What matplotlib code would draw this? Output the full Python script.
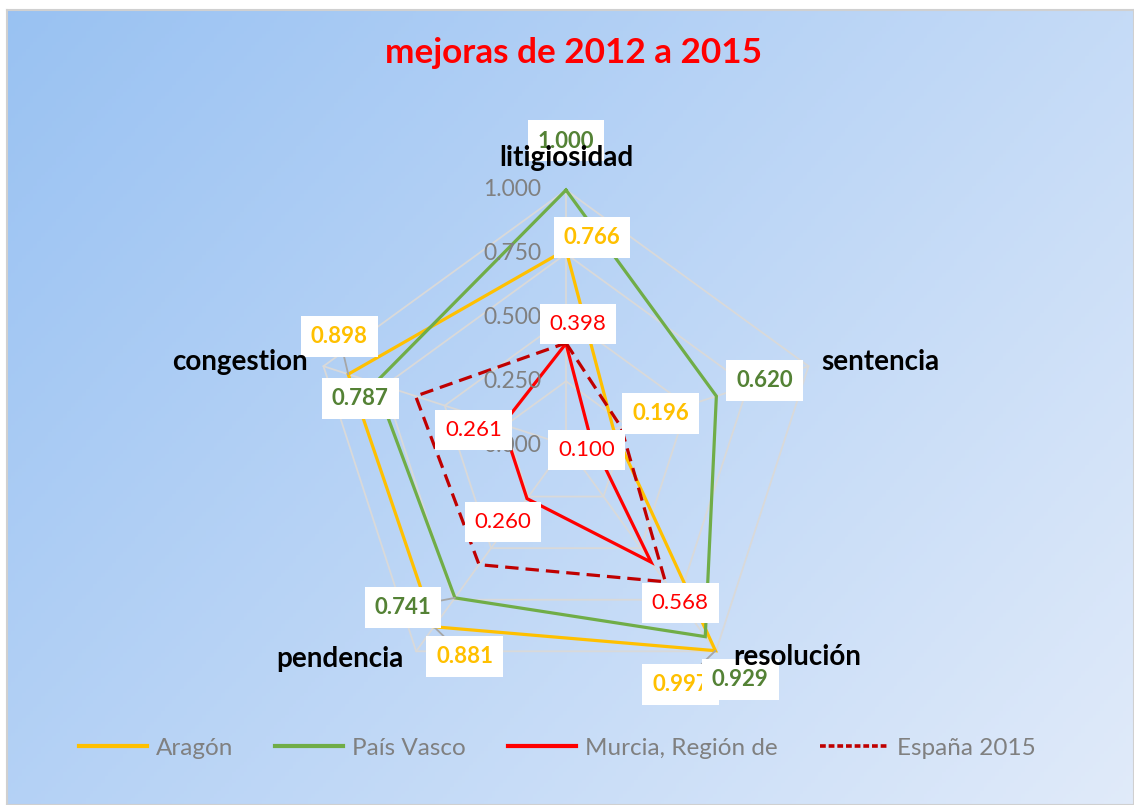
import numpy as np
import matplotlib
matplotlib.use("Agg")
import matplotlib.pyplot as plt
from matplotlib.lines import Line2D

# ---------------- data ----------------
title = "mejoras de 2012 a 2015"
categories = ["litigiosidad", "sentencia", "resolución", "pendencia", "congestion"]
series_names = ["Aragón", "País Vasco", "Murcia, Región de", "España 2015"]
aragon = [0.766, 0.196, 0.997, 0.881, 0.898]
pais_vasco = [1.000, 0.620, 0.929, 0.741, 0.787]
murcia = [0.398, 0.100, 0.568, 0.260, 0.261]
espana = [0.400, 0.227, 0.663, 0.580, 0.620]
radial_ticks = [0.0, 0.25, 0.5, 0.75, 1.0]
radial_labels = ["0.000", "0.250", "0.500", "0.750", "1.000"]

# ---------------- style / layout ----------------
plt.rcParams["font.family"] = ["Lato", "DejaVu Sans"]
colors = ["#FFC000", "#70AD47", "#FF0000", "#C00000"]
label_colors = ["#FFC000", "#548235", "#FF0000", None]
label_weights = ["bold", "bold", "normal", "normal"]
linestyles = ["-", "-", "-", (0, (4.2, 2.2))]
legend_styles = ["-", "-", "-", (0, (1.6, 0.8))]

# data label offsets (pixels) per series per category
label_offsets = [
    [(26, 12), (47, 16), (-35, -34), (31, -30), (-9, 38)],
    [(0, 49), (48, 16), (35, -43), (-52, -10), (-15, -16)],
    [(12, 20), (-4, -13), (29, -41), (-24, -23), (-29, -6)],
    None,
]
leader = [[False, False, True, True, True],
          [False, False, False, True, False],
          [False] * 5, None]
cat_offsets = [(0, 32), (72, 4), (81, -6), (-76, -8), (-84, 4)]

W, H = 1134, 805
fig = plt.figure(figsize=(W / 100, H / 100), dpi=100)
fig.patch.set_facecolor("white")

# background gradient panel
bg = fig.add_axes([7 / W, 0, 1 - 7 / W, 1 - 10 / H])
nx, ny = 300, 220
xx, yy = np.meshgrid(np.linspace(0, 1, nx), np.linspace(0, 1, ny))
t = (xx * 0.62 + yy * 0.38)
c0 = np.array([0.60, 0.76, 0.95])
c1 = np.array([0.88, 0.92, 0.98])
img = c0[None, None, :] * (1 - t[..., None]) + c1[None, None, :] * t[..., None]
bg.imshow(img, extent=[0, 1, 0, 1], aspect="auto", origin="upper")
bg.set_xticks([]); bg.set_yticks([])
for s in bg.spines.values():
    s.set_color("#D0D0D0"); s.set_linewidth(1.5)

fig.text(574 / W, 1 - 53 / H, title, color="#FF0000", fontsize=25.3,
         fontweight="bold", ha="center", va="center")

# radar axes
cx, cy, R = 566, 445, 255
ax = fig.add_axes([(cx - R) / W, 1 - (cy + R) / H, 2 * R / W, 2 * R / H],
                  projection="polar")
ax.set_theta_offset(np.pi / 2)
ax.set_theta_direction(-1)
ax.set_ylim(0, 1)
ax.patch.set_alpha(0)
ax.grid(False)
ax.spines["polar"].set_visible(False)
ax.set_xticks([]); ax.set_yticks([])

n = len(categories)
angles = np.arange(n) * 2 * np.pi / n
closed = np.append(angles, angles[0])

for r in radial_ticks[1:]:
    ax.plot(closed, [r] * (n + 1), color="#D9D9D9", lw=1.3, zorder=1, clip_on=False)
for a in angles:
    ax.plot([a, a], [0, 1], color="#D9D9D9", lw=1.3, zorder=1, clip_on=False)

all_series = [aragon, pais_vasco, murcia, espana]
for i, vals in enumerate(all_series):
    v = np.append(vals, vals[0])
    ax.plot(closed, v, color=colors[i], lw=2.3, linestyle=linestyles[i],
            zorder=3 + i, clip_on=False, solid_joinstyle="miter")

# radial tick labels
for r, lab in zip(radial_ticks, radial_labels):
    ax.annotate(lab, xy=(0, r), xytext=(-25, 0), textcoords="offset pixels",
                ha="right", va="center", color="#808080", fontsize=16.5, zorder=8)

# data labels
for i, vals in enumerate(all_series):
    if label_offsets[i] is None:
        continue
    for j, v in enumerate(vals):
        dx, dy = label_offsets[i][j]
        kw = {}
        if leader[i][j]:
            kw["arrowprops"] = dict(arrowstyle="-", color="#A6A6A6", lw=1.3,
                                    shrinkA=0, shrinkB=0)
        ax.annotate(f"{v:.3f}", xy=(angles[j], v), xytext=(dx, dy),
                    textcoords="offset pixels", ha="center", va="center",
                    color=label_colors[i], fontsize=16, fontweight=label_weights[i],
                    bbox=dict(boxstyle="square,pad=0.45", fc="white", ec="none"),
                    zorder=10 + i, annotation_clip=False, **kw)

# category labels
for j, cat in enumerate(categories):
    dx, dy = cat_offsets[j]
    ax.annotate(cat, xy=(angles[j], 1.0), xytext=(dx, dy), textcoords="offset pixels",
                ha="center", va="center", color="black", fontsize=20,
                fontweight="bold", zorder=20, annotation_clip=False)

# legend
handles = [Line2D([0], [0], color=colors[i], lw=3 if i < 3 else 2.6,
                  linestyle=legend_styles[i]) for i in range(4)]
leg = fig.legend(handles, series_names, loc="center",
                 bbox_to_anchor=(557 / W, 1 - 748 / H), ncol=4, frameon=False,
                 fontsize=17.5, handlelength=2.8, handletextpad=0.37,
                 columnspacing=1.73)
for txt in leg.get_texts():
    txt.set_color("#808080")

fig.savefig("out.png", dpi=100)
